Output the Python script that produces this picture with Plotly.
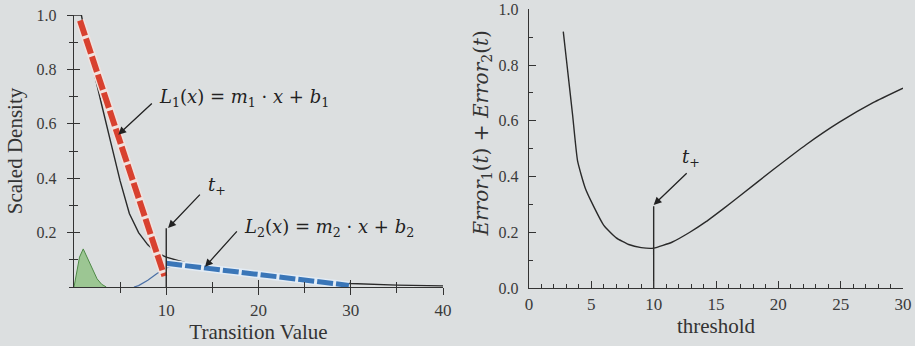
import plotly.graph_objects as go

# ---------------- data (left panel) ----------------
density_x = [0, 0.8, 1.2, 2, 3, 4, 5, 6, 7, 8, 9, 10, 12, 15, 20, 25, 30, 35, 40]
density_y = [1.0, 1.0, 0.93, 0.81, 0.67, 0.53, 0.39, 0.27, 0.20, 0.155, 0.125, 0.11,
             0.09, 0.072, 0.048, 0.027, 0.013, 0.007, 0.004]

green_x = [0, 0.3, 0.6, 1.0, 1.5, 2.0, 2.5, 3.0, 3.5]
green_y = [0, 0.06, 0.11, 0.14, 0.105, 0.065, 0.03, 0.01, 0]

blue_thin_x = [6.5, 7, 8, 9, 10, 11, 12, 15, 20, 25, 30]
blue_thin_y = [0, 0.005, 0.025, 0.05, 0.07, 0.08, 0.08, 0.068, 0.045, 0.025, 0.012]

line1_x = [0.65, 9.8]
line1_y = [0.98, 0.04]
line2_x = [10, 29.8]
line2_y = [0.087, 0.006]

t_plus_left_x = [10, 10]
t_plus_left_y = [0, 0.216]

left_ytick_vals = [0.2, 0.4, 0.6, 0.8, 1.0]
left_ytick_text = ["0.2", "0.4", "0.6", "0.8", "1.0"]
left_xtick_vals = [10, 20, 30, 40]
left_xminor_vals = [5, 15, 25, 35]

# ---------------- data (right panel) ----------------
thr_x = [2.75, 3.0, 3.5, 3.9, 4.5, 5, 6, 7, 8, 9, 10, 11.5, 12.9, 14.2, 15.6,
         16.9, 19.6, 22.25, 24.9, 27.6, 30]
err_y = [0.92, 0.82, 0.62, 0.455, 0.36, 0.31, 0.225, 0.18, 0.156, 0.145, 0.143,
         0.165, 0.20, 0.238, 0.285, 0.33, 0.425, 0.515, 0.595, 0.665, 0.717]

t_plus_right_x = [10, 10]
t_plus_right_y = [0, 0.293]

BG = "#dcdfe0"
INK = "#2a2a2a"
FONT = "Liberation Serif"
MATH = "DejaVu Serif"

fig = go.Figure()

# left panel traces
fig.add_trace(go.Scatter(x=green_x, y=green_y, mode="lines", fill="tozeroy",
                         fillcolor="#9cc693", line=dict(color="#4f8a48", width=1),
                         xaxis="x", yaxis="y", hoverinfo="skip"))
fig.add_trace(go.Scatter(x=blue_thin_x, y=blue_thin_y, mode="lines",
                         line=dict(color="#4a6fa5", width=1.2),
                         xaxis="x", yaxis="y", hoverinfo="skip"))
fig.add_trace(go.Scatter(x=density_x, y=density_y, mode="lines",
                         line=dict(color=INK, width=1.4),
                         xaxis="x", yaxis="y", hoverinfo="skip"))
fig.add_trace(go.Scatter(x=line1_x, y=line1_y, mode="lines",
                         line=dict(color="#f1e2de", width=9),
                         xaxis="x", yaxis="y", hoverinfo="skip"))
fig.add_trace(go.Scatter(x=line1_x, y=line1_y, mode="lines",
                         line=dict(color="#d8412f", width=6, dash="16px,3px"),
                         xaxis="x", yaxis="y", hoverinfo="skip"))
fig.add_trace(go.Scatter(x=line2_x, y=line2_y, mode="lines",
                         line=dict(color="#e3ecf5", width=8),
                         xaxis="x", yaxis="y", hoverinfo="skip"))
fig.add_trace(go.Scatter(x=line2_x, y=line2_y, mode="lines",
                         line=dict(color="#3a76b8", width=5, dash="16px,3px"),
                         xaxis="x", yaxis="y", hoverinfo="skip"))
fig.add_trace(go.Scatter(x=t_plus_left_x, y=t_plus_left_y, mode="lines",
                         line=dict(color=INK, width=1.4),
                         xaxis="x3", yaxis="y3", hoverinfo="skip"))

# right panel traces
fig.add_trace(go.Scatter(x=thr_x, y=err_y, mode="lines",
                         line=dict(color=INK, width=1.4, shape="spline", smoothing=0.5),
                         xaxis="x2", yaxis="y2", hoverinfo="skip"))
fig.add_trace(go.Scatter(x=t_plus_right_x, y=t_plus_right_y, mode="lines",
                         line=dict(color=INK, width=1.4),
                         xaxis="x2", yaxis="y2", hoverinfo="skip"))

W, H = 915, 346
L_dom_x = [74 / W, 443 / W]
L_dom_y = [(H - 287) / H, (H - 15) / H]
R_dom_x = [529 / W, 903 / W]
R_dom_y = [(H - 288) / H, (H - 9.3) / H]

TC = "#333333"
titlefont = dict(family=FONT, size=21, color=TC)

common = dict(showgrid=False, zeroline=False, showline=True, linecolor=TC,
              linewidth=1.4, tickcolor=TC, tickwidth=1.2, automargin=False)
overlay = dict(showgrid=False, zeroline=False, showline=False, showticklabels=False,
               tickcolor=TC, tickwidth=1.2)

fig.update_layout(
    width=W, height=H,
    margin=dict(l=0, r=0, t=0, b=0),
    paper_bgcolor=BG, plot_bgcolor="rgba(0,0,0,0)",
    showlegend=False,
    xaxis=dict(domain=L_dom_x, range=[0, 40], anchor="y", ticks="outside", ticklen=7,
               tickmode="array", tickvals=left_xtick_vals,
               tickfont=dict(family=FONT, size=17, color="#3a3a3a"),
               minor=dict(tickmode="array", tickvals=left_xminor_vals, ticks="outside",
                          ticklen=5, tickcolor=TC, tickwidth=1.2),
               title=dict(text="Transition Value", font=titlefont, standoff=2),
               **common),
    yaxis=dict(domain=L_dom_y, range=[0, 1], anchor="x", ticks="outside", ticklen=6,
               tickmode="array", tickvals=left_ytick_vals, ticktext=left_ytick_text,
               tickfont=dict(family=FONT, size=16, color="#3a3a3a"),
               ticklabelstandoff=7,
               minor=dict(dtick=0.1, ticks="outside", ticklen=4,
                          tickcolor=TC, tickwidth=1.2),
               title=dict(text="Scaled Density", font=titlefont, standoff=8),
               **common),
    xaxis3=dict(domain=L_dom_x, range=[0, 40], anchor="y3", overlaying="x",
                ticks="inside", ticklen=7, tickmode="array", tickvals=left_xtick_vals,
                minor=dict(tickmode="array", tickvals=left_xminor_vals, ticks="inside",
                           ticklen=5, tickcolor=TC, tickwidth=1.2),
                **overlay),
    yaxis3=dict(domain=L_dom_y, range=[0, 1], anchor="x3", overlaying="y",
                ticks="inside", ticklen=6, tickmode="array", tickvals=left_ytick_vals,
                minor=dict(dtick=0.1, ticks="inside", ticklen=4,
                           tickcolor=TC, tickwidth=1.2),
                **overlay),
    xaxis2=dict(domain=R_dom_x, range=[0, 30], anchor="y2", ticks="inside", ticklen=7,
                dtick=5, tickfont=dict(family=FONT, size=17, color="#3a3a3a"),
                minor=dict(dtick=1, ticks="inside", ticklen=4,
                           tickcolor=TC, tickwidth=1.2),
                title=dict(text="threshold", font=titlefont, standoff=2),
                **common),
    yaxis2=dict(domain=R_dom_y, range=[0, 1], anchor="x2", ticks="inside", ticklen=7,
                dtick=0.2, tickformat=".1f",
                tickfont=dict(family=FONT, size=16, color="#3a3a3a"),
                ticklabelstandoff=6,
                minor=dict(dtick=0.1, ticks="inside", ticklen=4,
                           tickcolor=TC, tickwidth=1.2),
                **common),
)

ann_font = dict(family=MATH, size=18, color="#222222")
tp_font = dict(family=MATH, size=18, color="#222222")
arrow = dict(showarrow=True, arrowhead=2, arrowsize=1.2, arrowwidth=1.3,
             arrowcolor="#222222", text="")

# right panel y-axis title (placed as rotated text to match the reference offset)
fig.add_annotation(x=481 / W, y=(H - 133.5) / H, xref="paper", yref="paper",
                   xanchor="center", yanchor="middle", textangle=-90, showarrow=False,
                   text="<i>Error</i><sub>1</sub>(<i>t</i>)&nbsp;+&nbsp;<i>Error</i><sub>2</sub>(<i>t</i>)",
                   font=dict(family=MATH, size=20, color=TC))

# left panel labels
fig.add_annotation(x=9.0, y=0.695, xref="x", yref="y", xanchor="left", yanchor="middle",
                   text="<i>L</i><sub>1</sub>(<i>x</i>) = <i>m</i><sub>1</sub> · <i>x</i> + <i>b</i><sub>1</sub>",
                   showarrow=False, font=ann_font)
fig.add_annotation(x=4.8, y=0.56, ax=8.6, ay=0.68, xref="x", yref="y",
                   axref="x", ayref="y", **arrow)
fig.add_annotation(x=18.2, y=0.217, xref="x", yref="y", xanchor="left", yanchor="middle",
                   text="<i>L</i><sub>2</sub>(<i>x</i>) = <i>m</i><sub>2</sub> · <i>x</i> + <i>b</i><sub>2</sub>",
                   showarrow=False, font=ann_font)
fig.add_annotation(x=14.2, y=0.074, ax=17.8, ay=0.21, xref="x", yref="y",
                   axref="x", ayref="y", **arrow)
fig.add_annotation(x=14.3, y=0.37, xref="x", yref="y", xanchor="left", yanchor="middle",
                   text="<i>t</i><sub>+</sub>", showarrow=False, font=tp_font)
fig.add_annotation(x=10.2, y=0.217, ax=13.8, ay=0.345, xref="x", yref="y",
                   axref="x", ayref="y", **arrow)

# right panel label
fig.add_annotation(x=12.1, y=0.465, xref="x2", yref="y2", xanchor="left", yanchor="middle",
                   text="<i>t</i><sub>+</sub>", showarrow=False, font=tp_font)
fig.add_annotation(x=10.0, y=0.298, ax=12.77, ay=0.417, xref="x2", yref="y2",
                   axref="x2", ayref="y2", **arrow)

fig.write_html("out.html",
               config={"displayModeBar": False},
               post_script="document.body.style.margin='0';"
                           "document.body.style.background='#dcdfe0';")
